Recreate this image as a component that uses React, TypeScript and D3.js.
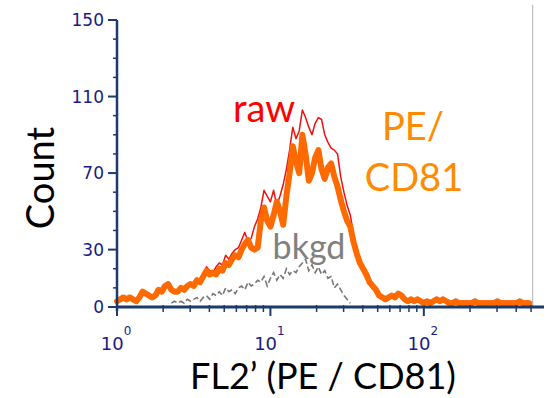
import React from "react";
import * as d3 from "d3";

// Histogram channels (log-spaced, 48 channels per decade)
const CHANNELS_PER_DECADE = 48;

// PE / CD81 (orange, thick)
const peCd81: number[] = [
  3, 4, 5, 4, 5, 4, 3, 5, 8, 7, 6, 5, 6, 9, 8, 11, 12, 9, 8, 8,
  10, 9, 11, 12, 11, 14, 13, 16, 19, 17, 18, 17, 20, 19, 23, 22, 25, 27, 26, 30,
  33, 35, 31, 30, 31, 45, 52, 45, 42, 48, 55, 50, 43, 58, 70, 84, 76, 70, 90, 80,
  66, 70, 78, 82, 72, 67, 73, 75, 68, 63, 56, 50, 45, 42, 34, 28, 23, 20, 17, 13,
  11, 9, 6, 5, 4, 5, 6, 5, 7, 6, 4, 3, 4, 3, 4, 3, 2, 3, 2, 3,
  4, 3, 4, 3, 2, 2, 3, 2, 2, 2, 2, 2, 3, 2, 2, 2, 2, 2, 2, 3,
  2, 2, 2, 2, 2, 2, 3, 2, 2, 2,
];

// raw (red, thin)
const raw: number[] = [
  4, 5, 6, 5, 6, 5, 4, 6, 9, 8, 7, 6, 7, 10, 9, 12, 13, 10, 9, 9,
  11, 10, 12, 13, 12, 15, 14, 17, 21, 19, 18, 21, 23, 22, 27, 25, 28, 30, 31, 35,
  39, 34, 36, 42, 46, 52, 61, 58, 55, 61, 53, 58, 64, 72, 82, 94, 88, 92, 103, 99,
  94, 90, 96, 99, 98, 90, 86, 83, 82, 80, 68, 60, 53, 48, 38, 30, 25, 21, 18, 14,
  12, 10, 7, 6, 5, 6, 7, 6, 8, 7, 5, 4, 5, 4, 5, 4, 3, 4, 3, 4,
  5, 4, 5, 4, 3, 3, 4, 3, 3, 3, 3, 3, 4, 3, 3, 3, 3, 3, 3, 4,
  3, 3, 3, 3, 3, 3, 4, 3, 3, 3,
];

// bkgd (gray, dashed), starting at channel 17
const BKGD_START = 17;
const bkgd: number[] = [
  2, 3, 2, 3, 2, 4, 3, 4, 5, 3, 5, 6, 4, 7, 6, 8, 6, 10, 8, 9,
  7, 10, 11, 9, 13, 11, 12, 14, 13, 16, 11, 15, 18, 14, 17, 15, 20, 17, 19, 18,
  21, 23, 25, 19, 22, 18, 21, 17, 19, 15, 16, 10, 12, 9, 6, 4, 2,
];

const yMajorTicks = [0, 30, 70, 110, 150];
const yMinorTicks = [10, 20, 40, 50, 60, 80, 90, 100, 120, 130, 140];
const xMajorTicks = [1, 10, 100];
const xMajorExp = ["0", "1", "2"];
const xMinorTicks = [2, 3, 4, 5, 6, 7, 8, 9, 20, 30, 40, 50, 60, 70, 80, 90, 200, 300, 400, 500];
const X_MAX_CHANNEL_VALUE = 512;

const W = 548;
const H = 398;

export default function App() {
  const x = d3.scaleLog().domain([1, 607]).range([117, 544]);
  const y = d3.scaleLinear().domain([0, 150]).range([307, 20]);
  const chToVal = (ch: number) => Math.pow(10, ch / CHANNELS_PER_DECADE);

  const line = d3
    .line<[number, number]>()
    .x((d) => x(d[0]))
    .y((d) => y(d[1]));

  const orangePts: [number, number][] = peCd81.map((v, i) => [chToVal(i), v]);
  const redPts: [number, number][] = raw.map((v, i) => [chToVal(i), v]);
  const grayPts: [number, number][] = bkgd.map((v, i) => [chToVal(i + BKGD_START), v]);

  const axisColor = "#1c3a6b";
  const tickText = "#1a1a80";
  const calibri = "Lato, 'Open Sans', sans-serif";
  const verdana = "'DejaVu Sans', Verdana, sans-serif";

  return (
    <svg
      width={W}
      height={H}
      style={{ position: "absolute", left: 0, top: 0, background: "#fff" }}
    >
      <rect x={0} y={0} width={W} height={H} fill="#fff" />
      {/* right border */}
      <line
        x1={x(X_MAX_CHANNEL_VALUE)}
        x2={x(X_MAX_CHANNEL_VALUE)}
        y1={5}
        y2={307}
        stroke="#bdbdbd"
        strokeWidth={1.2}
      />
      {/* curves */}
      <path d={line(redPts) || ""} fill="none" stroke="#ee1111" strokeWidth={1.5} strokeLinejoin="round" />
      <path d={line(orangePts) || ""} fill="none" stroke="#ff6a00" strokeWidth={6} strokeLinejoin="round" strokeLinecap="round" />
      <path d={line(grayPts) || ""} fill="none" stroke="#777" strokeWidth={1.6} strokeDasharray="6,3" />

      {/* y axis */}
      <line x1={117} x2={117} y1={y(150)} y2={311} stroke={axisColor} strokeWidth={2.5} />
      {yMajorTicks.map((t) => (
        <g key={"ym" + t}>
          <line x1={108} x2={117} y1={y(t)} y2={y(t)} stroke={axisColor} strokeWidth={2} />
          <text
            x={104}
            y={y(t)}
            dy="0.36em"
            textAnchor="end"
            fontFamily={verdana}
            fontSize={17}
            fill={tickText}
          >
            {t}
          </text>
        </g>
      ))}
      {yMinorTicks.map((t) => (
        <line key={"yn" + t} x1={113} x2={117} y1={y(t)} y2={y(t)} stroke={axisColor} strokeWidth={1.5} />
      ))}

      {/* x axis */}
      <line x1={116} x2={544} y1={307} y2={307} stroke={axisColor} strokeWidth={3} />
      {xMajorTicks.map((t, i) => (
        <g key={"xm" + t}>
          <line x1={x(t)} x2={x(t)} y1={307} y2={316} stroke={axisColor} strokeWidth={2} />
          <text
            x={x(t) - 1}
            y={350}
            textAnchor="middle"
            fontFamily={verdana}
            fontSize={18}
            fill={tickText}
          >
            10
            <tspan dy={-15} fontSize={12}>
              {xMajorExp[i]}
            </tspan>
          </text>
        </g>
      ))}
      {xMinorTicks.map((t) => (
        <line key={"xn" + t} x1={x(t)} x2={x(t)} y1={305} y2={312} stroke={axisColor} strokeWidth={1.5} />
      ))}

      {/* axis titles */}
      <text
        transform={`translate(54,178) rotate(-90)`}
        textAnchor="middle"
        fontFamily={calibri}
        fontSize={38}
        fill="#000"
      >
        Count
      </text>
      <text x={323} y={389} textAnchor="middle" fontFamily={calibri} fontSize={36} fill="#000">
        FL2’ (PE / CD81)
      </text>

      {/* series labels */}
      <text x={264} y={122} textAnchor="middle" fontFamily={calibri} fontSize={38} fill="#ff0000">
        raw
      </text>
      <text x={309} y={259} textAnchor="middle" fontFamily={calibri} fontSize={34} fill="#808080">
        bkgd
      </text>
      <text x={413} y={140} textAnchor="middle" fontFamily={calibri} fontSize={38} fill="#ff8c00">
        PE/
      </text>
      <text x={414} y={191} textAnchor="middle" fontFamily={calibri} fontSize={38} fill="#ff8c00">
        CD81
      </text>
    </svg>
  );
}
